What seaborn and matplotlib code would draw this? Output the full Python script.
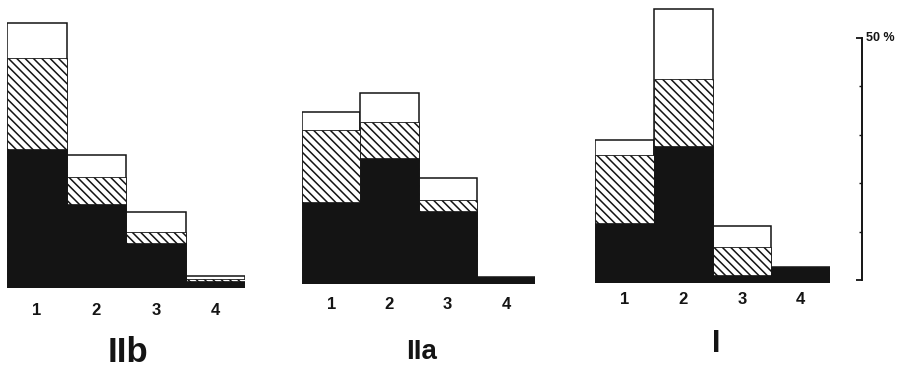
import matplotlib
matplotlib.use("Agg")
import matplotlib.pyplot as plt
import seaborn as sns
import pandas as pd
import numpy as np

sns.set_theme(style="white")
plt.rcParams['font.family'] = ['Liberation Sans Narrow', 'Liberation Sans', 'DejaVu Sans']
plt.rcParams['hatch.linewidth'] = 1.1

# ---- data (percent) ----
categories = ["1", "2", "3", "4"]
panels = ["IIb", "IIa", "I"]

iib_black = [28.7, 17.4, 9.3, 1.5]
iib_hatch = [18.8, 5.5, 2.3, 0.4]
iib_white = [7.3, 4.6, 4.1, 0.6]

iia_black = [16.9, 26.0, 15.1, 1.4]
iia_hatch = [14.9, 7.5, 2.3, 0.0]
iia_white = [3.7, 6.0, 4.5, 0.0]

i_black = [12.4, 28.3, 1.7, 3.3]
i_hatch = [14.0, 13.8, 5.7, 0.0]
i_white = [3.1, 14.5, 4.4, 0.0]

scale_max = 50
scale_ticks = [10, 20, 30, 40]

series = {
    "IIb": (iib_black, iib_hatch, iib_white),
    "IIa": (iia_black, iia_hatch, iia_white),
    "I": (i_black, i_hatch, i_white),
}

# ---- layout (pixels) ----
W, H = 913, 375
PX_PER_PCT = 4.84
YMAX = 58
layout = {
    "IIb": dict(x0=7, x1=245, base=288, pad=10.5, title_x=128, title_y=352, title_size=25),
    "IIa": dict(x0=302, x1=535, base=284, pad=9.5, title_x=422, title_y=352, title_size=20),
    "I": dict(x0=595, x1=830, base=283, pad=6.5, title_x=716, title_y=344, title_size=22),
}
BLACK = "#141414"

fig = plt.figure(figsize=(W / 100, H / 100), dpi=100)
fig.patch.set_facecolor("white")

for name in panels:
    L = layout[name]
    black, hatch, white = series[name]
    black = np.array(black)
    hatch_top = black + np.array(hatch)
    total = hatch_top + np.array(white)
    df = pd.DataFrame({"cat": categories, "total": total,
                       "hatch_top": hatch_top, "black": black})
    ax = fig.add_axes([L["x0"] / W, (H - L["base"]) / H,
                       (L["x1"] - L["x0"]) / W, YMAX * PX_PER_PCT / H])
    sns.barplot(data=df, x="cat", y="total", order=categories, ax=ax,
                color="white", edgecolor=BLACK, linewidth=1.1,
                width=1.0, saturation=1, errorbar=None)
    sns.barplot(data=df, x="cat", y="hatch_top", order=categories, ax=ax,
                color="white", edgecolor=BLACK, linewidth=0.6, hatch="\\\\\\\\",
                width=1.0, saturation=1, errorbar=None)
    sns.barplot(data=df, x="cat", y="black", order=categories, ax=ax,
                color=BLACK, edgecolor=BLACK, linewidth=0.5,
                width=1.0, saturation=1, errorbar=None)
    ax.set_xlim(-0.5, 3.5)
    ax.set_ylim(0, YMAX)
    ax.set_xlabel("")
    ax.set_ylabel("")
    ax.set_yticks([])
    ax.set_xticks(range(len(categories)))
    ax.set_xticklabels(categories, fontsize=12, fontweight="bold", color=BLACK)
    ax.tick_params(axis="x", length=0, pad=L["pad"])
    for s in ax.spines.values():
        s.set_visible(False)
    ax.patch.set_alpha(0)
    fig.text(L["title_x"] / W, 1 - L["title_y"] / H, name,
             ha="center", va="center", fontsize=L["title_size"],
             fontweight="bold", color=BLACK)

# ---- scale bar ----
sx = fig.add_axes([850 / W, (H - 280) / H, 12 / W, scale_max * PX_PER_PCT / H])
sx.set_ylim(0, scale_max)
sx.set_xticks([])
for k, s in sx.spines.items():
    s.set_visible(k == "right")
sx.spines["right"].set_linewidth(1.4)
sx.spines["right"].set_color(BLACK)
sx.yaxis.tick_right()
sx.set_yticks([0, scale_max])
sx.set_yticklabels([])
sx.set_yticks(scale_ticks, minor=True)
sx.tick_params(axis="y", which="major", direction="in", length=4, width=1.3, color=BLACK)
sx.tick_params(axis="y", which="minor", direction="in", length=2, width=1.0, color=BLACK)
sx.patch.set_alpha(0)
fig.text(866 / W, 1 - 38 / H, "50 %", ha="left", va="center",
         fontsize=9, fontweight="bold", color=BLACK)

fig.savefig("out.png", dpi=100, facecolor="white")
